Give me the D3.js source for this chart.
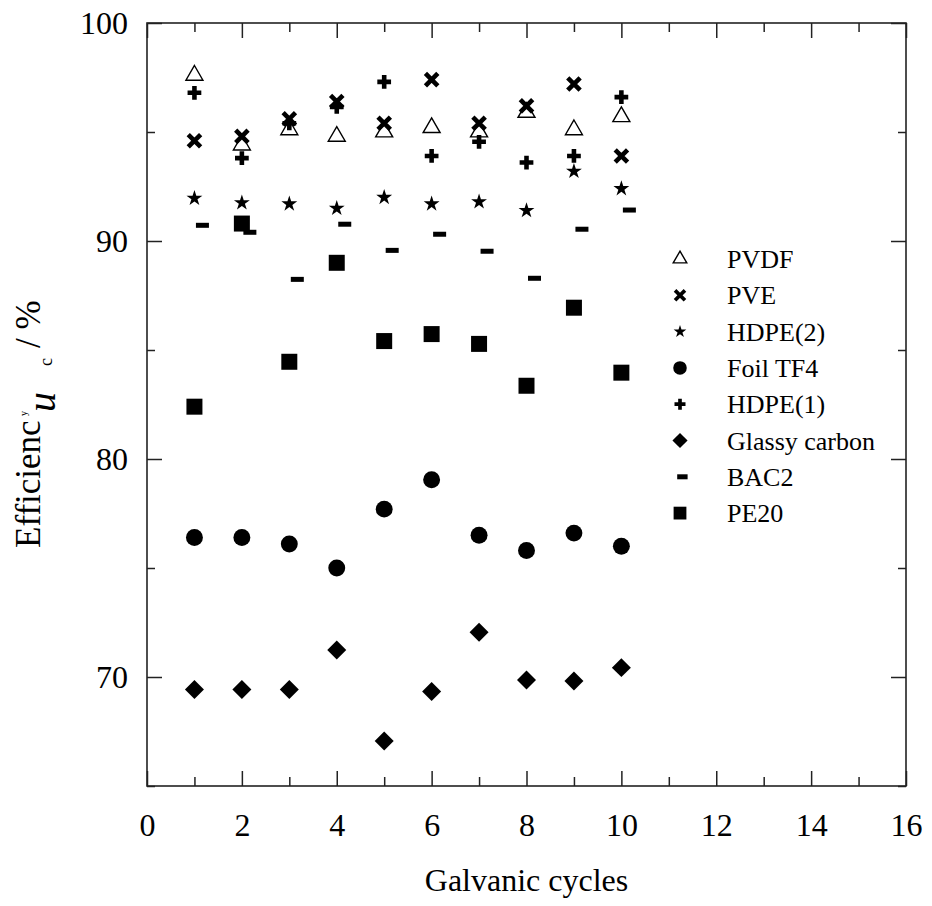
<!DOCTYPE html>
<html>
<head>
<meta charset="utf-8">
<script src="https://cdn.jsdelivr.net/npm/d3@7"></script>
<style>
  html, body { margin: 0; padding: 0; background: #fff; }
  svg { display: block; font-family: 'Liberation Serif', 'Times New Roman', serif; }
</style>
</head>
<body>
<div id="chart"></div>
<script>
const cycles = [1, 2, 3, 4, 5, 6, 7, 8, 9, 10]

const pvdf = [97.6, 94.4, 95.1, 94.8, 95.0, 95.2, 95.0, 95.9, 95.1, 95.7]
const pve = [94.6, 94.8, 95.6, 96.4, 95.4, 97.4, 95.4, 96.2, 97.2, 93.9]
const hdpe2 = [91.96, 91.75, 91.7, 91.5, 92.0, 91.7, 91.8, 91.4, 93.2, 92.4]
const foilTF4 = [76.4, 76.4, 76.1, 75.0, 77.7, 79.05, 76.5, 75.8, 76.6, 76.0]
const hdpe1 = [96.8, 93.8, 95.4, 96.15, 97.3, 93.9, 94.55, 93.6, 93.9, 96.6]
const glassyCarbon = [69.43, 69.43, 69.43, 71.24, 67.06, 69.33, 72.05, 69.86, 69.82, 70.43]
const bac2 = [90.72, 90.4, 88.24, 90.77, 89.57, 90.31, 89.53, 88.29, 90.54, 91.42]
const pe20 = [82.4, 90.8, 84.46, 89.0, 85.41, 85.73, 85.28, 83.36, 86.94, 83.96]

const xTicks = [0, 2, 4, 6, 8, 10, 12, 14, 16]
const xMinorTicks = [1, 3, 5, 7, 9, 11, 13, 15]
const yTicks = [70, 80, 90, 100]
const yMinorTicks = [65, 75, 85, 95]

// legend order = drawing config
const series = [
    { name: 'PVDF', values: pvdf, shape: 'triangle' },
    { name: 'PVE', values: pve, shape: 'x' },
    { name: 'HDPE(2)', values: hdpe2, shape: 'star' },
    { name: 'Foil TF4', values: foilTF4, shape: 'circle' },
    { name: 'HDPE(1)', values: hdpe1, shape: 'plus' },
    { name: 'Glassy carbon', values: glassyCarbon, shape: 'diamond' },
    { name: 'BAC2', values: bac2, shape: 'dash' },
    { name: 'PE20', values: pe20, shape: 'square' }
]

const serif = "'Liberation Serif', 'Times New Roman', serif"
const margin = { top: 23, right: 26, bottom: 120, left: 147 }
const totalW = 932
const totalH = 906
const width = totalW - margin.left - margin.right
const height = totalH - margin.top - margin.bottom

const x = d3.scaleLinear().domain([0, 16]).range([0, width])
const y = d3.scaleLinear().domain([65, 100]).range([height, 0])

const svg = d3.select('#chart')
    .append('svg')
        .attr('width', totalW)
        .attr('height', totalH)

const canvas = svg.append('g')
    .attr('transform', `translate(${margin.left}, ${margin.top})`)

// draws a symbol centred on 0,0; k scales it down for the legend
const drawSymbol = (sel, shape, k = 1) => {
    if (shape === 'triangle') {
        sel.append('path')
            .attr('d', d3.symbol(d3.symbolTriangle, 125 * k * k)())
            .attr('fill', '#fff').attr('stroke', '#000').attr('stroke-width', 1.4)
    } else if (shape === 'x') {
        const r = 6.2 * k
        sel.append('path')
            .attr('d', `M${-r},${-r}L${r},${r}M${-r},${r}L${r},${-r}`)
            .attr('stroke', '#000').attr('stroke-width', 4.6 * k).attr('fill', 'none')
    } else if (shape === 'star') {
        sel.append('path')
            .attr('d', d3.symbol(d3.symbolStar, 78 * k * k)())
            .attr('fill', '#000')
    } else if (shape === 'circle') {
        sel.append('path')
            .attr('d', d3.symbol(d3.symbolCircle, 225 * k * k)())
            .attr('fill', '#000')
    } else if (shape === 'plus') {
        sel.append('path')
            .attr('d', d3.symbol(d3.symbolCross, 105 * k * k)())
            .attr('fill', '#000')
    } else if (shape === 'diamond') {
        sel.append('path')
            .attr('d', d3.symbol(d3.symbolSquare, 180 * k * k)())
            .attr('transform', 'rotate(45)')
            .attr('fill', '#000')
    } else if (shape === 'dash') {
        sel.append('rect')
            .attr('x', -6.5 * k + 8 * k).attr('y', -2.5)
            .attr('width', 13 * k).attr('height', 5)
            .attr('fill', '#000')
    } else if (shape === 'square') {
        sel.append('path')
            .attr('d', d3.symbol(d3.symbolSquare, 256 * k * k)())
            .attr('fill', '#000')
    }
}

// ticks: major and minor, pointing inward on all four sides
const addAxis = (axisFn, scale, ticks, size, transform, labels) => {
    const g = canvas.append('g')
        .attr('transform', transform)
        .call(axisFn(scale).tickValues(ticks).tickSizeInner(-size).tickSizeOuter(0)
            .tickFormat(labels ? d3.format('d') : ''))
    g.attr('font-family', null).attr('font-size', null)
    g.select('.domain').remove()
    g.selectAll('line').attr('stroke', '#222').attr('stroke-width', 1.5)
    g.selectAll('text')
        .style('font-family', serif)
        .style('font-size', '32px')
        .attr('fill', '#000')
    return g
}

const bottomAx = addAxis(d3.axisBottom, x, xTicks, 15, `translate(0, ${height})`, true)
bottomAx.selectAll('text').attr('y', 27)
addAxis(d3.axisBottom, x, xMinorTicks, 9, `translate(0, ${height})`, false)
addAxis(d3.axisTop, x, xTicks, 15, 'translate(0, 0)', false)
addAxis(d3.axisTop, x, xMinorTicks, 9, 'translate(0, 0)', false)

const leftAx = addAxis(d3.axisLeft, y, yTicks, 15, 'translate(0, 0)', true)
leftAx.selectAll('text').attr('x', -19)
addAxis(d3.axisLeft, y, yMinorTicks, 8, 'translate(0, 0)', false)
addAxis(d3.axisRight, y, yTicks, 15, `translate(${width}, 0)`, false)
addAxis(d3.axisRight, y, yMinorTicks, 8, `translate(${width}, 0)`, false)

canvas.append('rect')
    .attr('width', width)
    .attr('height', height)
    .attr('fill', 'none')
    .attr('stroke', '#222')
    .attr('stroke-width', 1.6)

// points
series.forEach(s => {
    canvas.append('g')
        .selectAll('g')
        .data(s.values)
        .enter()
        .append('g')
            .attr('transform', (d, i) => `translate(${x(cycles[i])}, ${y(d)})`)
            .each(function () { drawSymbol(d3.select(this), s.shape) })
})

// legend
const legend = svg.append('g')
    .attr('transform', 'translate(680, 259)')

series.forEach((s, i) => {
    const row = legend.append('g')
        .attr('transform', `translate(0, ${i * 36.3})`)
    const sym = row.append('g')
    drawSymbol(sym, s.shape, 0.8)
    if (s.shape === 'dash') sym.attr('transform', 'translate(-4, 0)')
    row.append('text')
        .attr('x', 47)
        .attr('dy', '0.35em')
        .attr('font-size', 26)
        .text(s.name)
})

// axis titles
svg.append('text')
    .attr('x', margin.left + width / 2)
    .attr('y', 891)
    .attr('text-anchor', 'middle')
    .attr('font-size', 32)
    .text('Galvanic cycles')

const yTitle = svg.append('text')
    .attr('transform', 'translate(40, 548) rotate(-90)')
    .attr('font-size', 35)
yTitle.append('tspan').attr('x', 0).attr('y', 0).text('Efficienc')
yTitle.append('tspan').attr('x', 132).attr('y', -13).attr('font-size', 10).text('y')
yTitle.append('tspan').attr('x', 136).attr('y', 15).attr('font-size', 40).attr('font-style', 'italic').text('u')
yTitle.append('tspan').attr('x', 182).attr('y', 12).attr('font-size', 18).text('c')
yTitle.append('tspan').attr('x', 200).attr('y', 0).text('/ %')
</script>
</body>
</html>
